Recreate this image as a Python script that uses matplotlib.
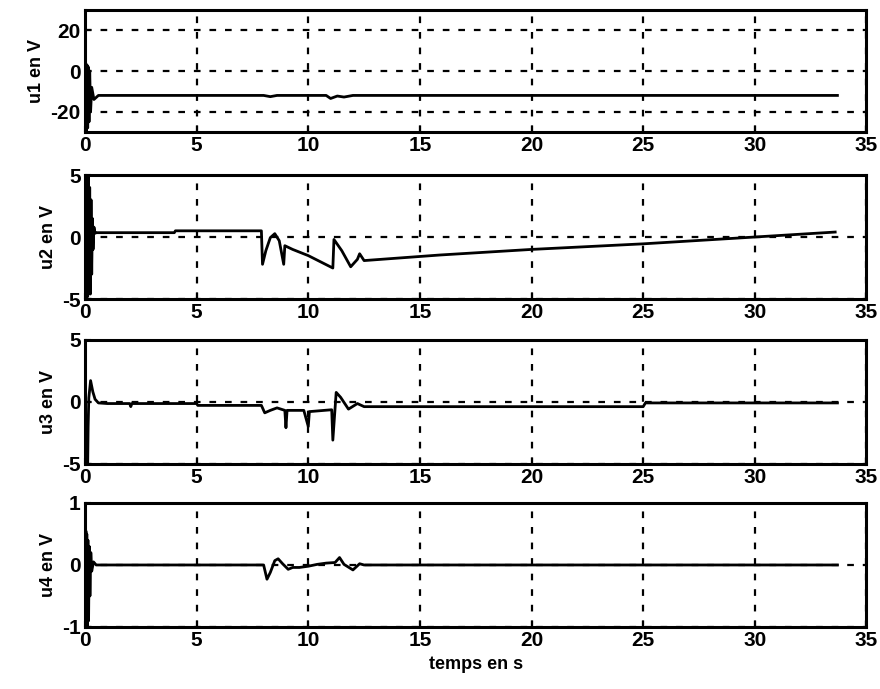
import matplotlib
matplotlib.use("Agg")
import matplotlib.pyplot as plt

plt.rcParams['font.family'] = ['Liberation Sans Narrow', 'Liberation Sans', 'DejaVu Sans']
plt.rcParams['font.weight'] = 'bold'
plt.rcParams['axes.unicode_minus'] = False

# u1 (V) vs time (s)
t1 = [0, 0.03, 0.06, 0.09, 0.12, 0.15, 0.18, 0.21, 0.25, 0.3, 0.4, 0.6,
      8.0, 8.3, 8.6, 10.8, 11.0, 11.3, 11.6, 12.0, 33.7]
u1 = [-30, 4, -30, 3, -28, 2, -25, 0, -20, -8, -14, -12,
      -12, -12.6, -12, -12, -13.5, -12.3, -12.8, -12, -12]

# u2
t2 = [0.0, 0.03, 0.06, 0.09, 0.12, 0.15, 0.18, 0.21, 0.24, 0.27, 0.30, 0.33,
      0.36, 0.40, 0.45, 0.5, 4.0, 4.05, 7.9, 7.95, 8.1, 8.3, 8.5, 8.7, 8.9,
      8.95, 9.3, 10.0, 11.1, 11.15, 11.5, 11.9, 12.2, 12.3, 12.5, 15.9, 20,
      25, 30, 33.6]
u2 = [0, 5, -5, 5, -4.8, 5, -4.5, 4, -4.6, 3, -3, 1.5,
      -1, 0.8, 0.3, 0.35, 0.35, 0.5, 0.5, -2.2, -1.1, -0.05, 0.27, -0.3, -2.2,
      -0.7, -1.0, -1.5, -2.5, -0.2, -1.1, -2.4, -1.8, -1.35, -1.9, -1.45, -1.0,
      -0.55, 0.0, 0.4]

# u3
t3 = [0, 0.12, 0.14, 0.17, 0.25, 0.35, 0.45, 0.6, 1.0, 2.0,
      2.05, 2.1, 5.0, 5.05, 7.9, 8.05, 8.3, 8.6, 8.95, 9.0,
      9.05, 9.8, 10.0, 10.05, 11.05, 11.1, 11.25, 11.45, 11.8, 12.2,
      12.5, 25.0, 25.1, 33.7]
u3 = [-5, -5, -2, 0.3, 1.7, 0.8, 0.2, -0.1, -0.15, -0.15,
      -0.4, -0.15, -0.15, -0.3, -0.3, -0.9, -0.7, -0.5, -0.7, -2.1,
      -0.7, -0.7, -2.0, -0.8, -0.65, -3.1, 0.75, 0.35, -0.6, -0.15,
      -0.4, -0.4, -0.1, -0.1]

# u4
t4 = [0, 0.02, 0.04, 0.06, 0.08, 0.10, 0.13, 0.16, 0.19, 0.22, 0.26, 0.3,
      0.38, 0.5, 8.0, 8.15, 8.3, 8.5, 8.65, 8.85, 9.1, 9.3, 9.6, 10.0, 10.4,
      10.8, 11.2, 11.4, 11.6, 12.0, 12.3, 12.5, 33.7]
u4 = [0, -1, 0.55, -1, 0.5, -1, 0.4, -0.9, 0.3, -0.5, 0.2, -0.1,
      0.05, 0, 0, -0.23, -0.12, 0.07, 0.1, 0.02, -0.07, -0.04, -0.04, -0.02, 0.01,
      0.03, 0.04, 0.12, 0.01, -0.08, 0.02, 0, 0]

series = [(t1, u1, 'u1 en V', (-30, 30), [-20, 0, 20]),
          (t2, u2, 'u2 en V', (-5, 5), [-5, 0, 5]),
          (t3, u3, 'u3 en V', (-5, 5), [-5, 0, 5]),
          (t4, u4, 'u4 en V', (-1, 1), [-1, 0, 1])]

# axes boxes in figure fraction: left, bottom, width, height
boxes = [(0.0966, 0.8084, 0.888, 0.177),
         (0.0966, 0.5660, 0.888, 0.180),
         (0.0966, 0.3270, 0.888, 0.180),
         (0.0966, 0.0900, 0.888, 0.180)]

fig = plt.figure(figsize=(8.8, 6.89), dpi=100)

for (t, u, lab, ylim, yt), box in zip(series, boxes):
    ax = fig.add_axes(box)
    ax.plot(t, u, color='black', lw=2.0)
    ax.set_xlim(0, 35)
    ax.set_ylim(*ylim)
    ax.set_xticks([0, 5, 10, 15, 20, 25, 30, 35])
    ax.set_yticks(yt)
    ax.grid(True, color='black', linestyle=(0, (3, 4)), lw=1.6)
    ax.tick_params(direction='in', length=4, width=1.5, labelsize=15, pad=3)
    for s in ax.spines.values():
        s.set_linewidth(2.2)
    ax.set_ylabel(lab, fontsize=13, fontweight='bold', labelpad=4)

ax.set_xlabel('temps en s', fontsize=13, fontweight='bold', labelpad=4)

fig.savefig('out.png', dpi=100)
